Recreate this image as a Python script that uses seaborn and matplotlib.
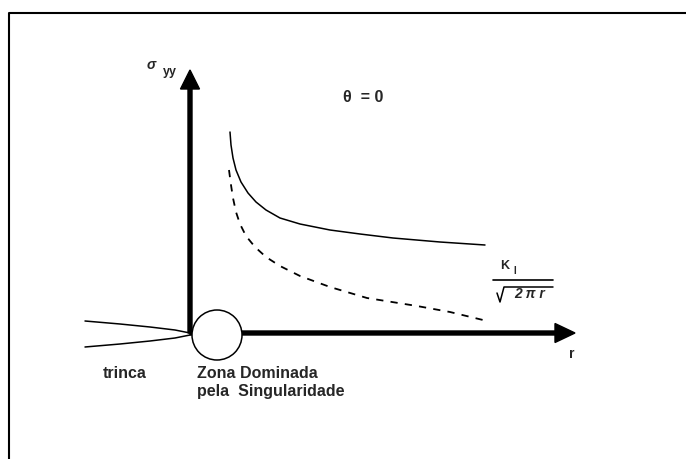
import matplotlib
matplotlib.use("Agg")
import matplotlib.pyplot as plt
from matplotlib.patches import Circle
import seaborn as sns
import pandas as pd

# curva cheia: tensao real perto da ponta da trinca
r_real = [0.40, 0.41, 0.43, 0.46, 0.51, 0.58, 0.66, 0.76, 0.90, 1.10, 1.40, 1.70, 2.03, 2.50, 2.95]
s_real = [2.01, 1.88, 1.75, 1.63, 1.51, 1.40, 1.31, 1.23, 1.15, 1.09, 1.03, 0.99, 0.95, 0.91, 0.88]

# curva tracejada: K_I / sqrt(2 pi r)
r_sing = [0.39, 0.41, 0.43, 0.46, 0.50, 0.56, 0.65, 0.76, 0.90, 1.10, 1.40, 1.77, 2.27, 2.60, 2.93]
s_sing = [1.63, 1.48, 1.35, 1.21, 1.09, 0.97, 0.86, 0.76, 0.67, 0.57, 0.46, 0.35, 0.27, 0.21, 0.13]

# faces da trinca
x_trinca = [-1.05, -0.70, -0.40, -0.15, 0.0]
y_sup = [0.12, 0.09, 0.06, 0.03, 0.0]
y_inf = [-0.14, -0.11, -0.08, -0.05, -0.02]

sns.set_style("white")
plt.rcParams['font.family'] = ['Liberation Sans', 'DejaVu Sans']

fig = plt.figure(figsize=(6.86, 4.59), dpi=100)
ax = fig.add_axes([0, 0, 1, 1])
ax.set_xlim(-1.90, 4.96)
ax.set_ylim(-1.26, 3.33)
ax.axis("off")

# moldura (so topo e esquerda aparecem no original)
ax.plot([0.013, 0.013, 1.0], [0.0, 0.972, 0.972], transform=ax.transAxes,
        color="black", lw=1.5, clip_on=False)

df_real = pd.DataFrame({"r": r_real, "s": s_real})
df_sing = pd.DataFrame({"r": r_sing, "s": s_sing})
sns.lineplot(data=df_real, x="r", y="s", sort=False, estimator=None,
             color="black", lw=1.1, ax=ax)
sns.lineplot(data=df_sing, x="r", y="s", sort=False, estimator=None,
             color="black", lw=1.3, ax=ax, linestyle=(0, (4, 4)))

sns.lineplot(x=x_trinca, y=y_sup, sort=False, estimator=None, color="black", lw=1.1, ax=ax)
sns.lineplot(x=x_trinca, y=y_inf, sort=False, estimator=None, color="black", lw=1.1, ax=ax)

# eixos com setas
ax.arrow(0, 0, 0, 2.63, width=0.04, head_width=0.19, head_length=0.19,
         length_includes_head=True, color="black", zorder=3)
ax.arrow(0, 0, 3.85, 0, width=0.04, head_width=0.19, head_length=0.20,
         length_includes_head=True, color="black", zorder=3)

# zona dominada pela singularidade
ax.add_patch(Circle((0.27, -0.02), 0.25, facecolor="white", edgecolor="black",
                    lw=1.1, zorder=4))

ax.text(-0.39, 2.68, "σ", fontsize=10, fontweight="bold", style="italic",
        ha="center", va="center")
ax.text(-0.20, 2.61, "yy", fontsize=9, fontweight="bold", ha="center", va="center")
ax.text(1.735, 2.35, "θ  = 0", fontsize=11.5, fontweight="bold", ha="center", va="center")
ax.text(3.82, -0.21, "r", fontsize=10, fontweight="bold", ha="center", va="center")

# K_I / raiz(2 pi r)
ax.text(3.15, 0.67, "K", fontsize=9, fontweight="bold", ha="center", va="center")
ax.text(3.25, 0.62, "I", fontsize=7, fontweight="bold", ha="center", va="center")
ax.plot([3.03, 3.63], [0.53, 0.53], color="black", lw=1.2)
ax.plot([3.07, 3.10, 3.14, 3.63], [0.40, 0.31, 0.46, 0.46], color="black", lw=1.1)
ax.text(3.40, 0.385, "2 π r", fontsize=10, fontweight="bold", style="italic",
        ha="center", va="center")

ax.text(-0.87, -0.41, "trinca", fontsize=11.5, fontweight="bold", ha="left", va="center")
ax.text(0.07, -0.41, "Zona Dominada", fontsize=11.5, fontweight="bold", ha="left", va="center")
ax.text(0.07, -0.585, "pela  Singularidade", fontsize=11.5, fontweight="bold",
        ha="left", va="center")

fig.savefig("out.png", dpi=100)
